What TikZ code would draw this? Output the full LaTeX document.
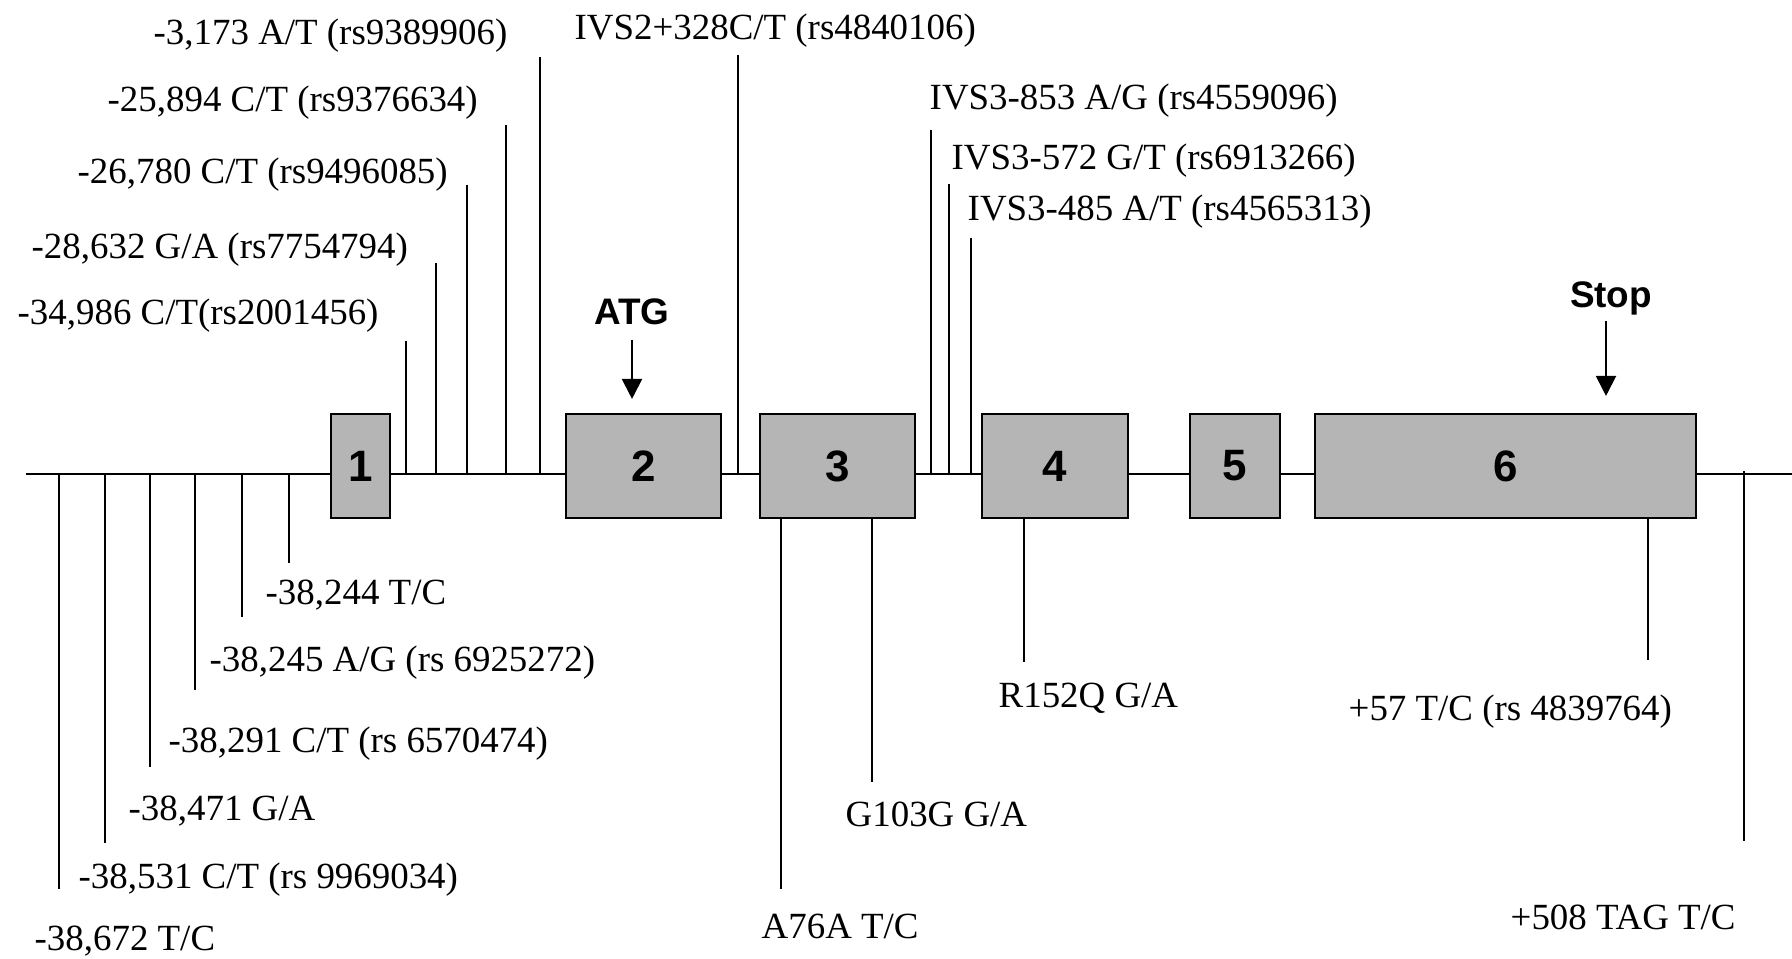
\documentclass[tikz,border=0pt]{standalone}
\usepackage{fontspec}
\setmainfont{Liberation Serif}
\setsansfont{Liberation Sans}
\usetikzlibrary{arrows.meta}
\definecolor{exongray}{RGB}{181,181,181}

\begin{document}
\begin{tikzpicture}[
    % Line and box styles
    dna/.style={line width=0.6pt, draw=black},
    exonbox/.style={draw=black, line width=0.6pt, fill=exongray, minimum height=1.04cm, inner sep=0pt, font=\sffamily\bfseries\fontsize{12.5}{14}\selectfont},
    snp/.style={line width=0.55pt, draw=black},
    snplabel/.style={anchor=west, inner sep=0pt, yshift=-0.03cm, font=\fontsize{10.5}{12}\selectfont},
    marklabel/.style={inner sep=0pt, font=\sffamily\bfseries\fontsize{10.5}{12}\selectfont},
    pointer/.style={->, line width=0.6pt, >={Triangle[width=2mm,length=2mm]}}
]

% 1. Frame
\useasboundingbox (0,0) rectangle (17.92,9.58);

% 2. DNA line (exons are drawn on top of it)
\coordinate (dna) at (0.26,4.84);
\coordinate (dnaend) at (17.92,4.84);
\draw[dna] (dna) -- (dnaend);

% 3. Exons
\node[exonbox, minimum width=0.59cm] (e1) at (3.605,4.92) {1};
\node[exonbox, minimum width=1.55cm] (e2) at (6.435,4.92) {2};
\node[exonbox, minimum width=1.55cm] (e3) at (8.375,4.92) {3};
\node[exonbox, minimum width=1.46cm] (e4) at (10.55,4.92) {4};
\node[exonbox, minimum width=0.90cm] (e5) at (12.35,4.92) {5};
\node[exonbox, minimum width=3.81cm] (e6) at (15.055,4.92) {6};

% 4. Start and stop codons
\node[marklabel] (atg) at (6.32,6.46) {ATG};
\node[marklabel] (stop) at (16.11,6.60) {Stop};
\draw[pointer, shorten <=0.14cm, shorten >=0.14cm] (atg.south) -- (atg.south |- e2.north);
\draw[pointer, shorten <=0.06cm, shorten >=0.17cm] ([xshift=-0.05cm]stop.south) -- ([xshift=-0.05cm]stop.south |- e6.north);

% 5. Promoter SNPs above the line
\node[snplabel] (l3173)  at (1.53,9.25) {-3,173 A/T (rs9389906)};
\node[snplabel] (l25894) at (1.07,8.58) {-25,894 C/T (rs9376634)};
\node[snplabel] (l26780) at (0.77,7.86) {-26,780 C/T (rs9496085)};
\node[snplabel] (l28632) at (0.31,7.11) {-28,632 G/A (rs7754794)};
\node[snplabel] (l34986) at (0.17,6.45) {-34,986 C/T(rs2001456)};

\coordinate (t3173)  at (5.40,9.01);
\coordinate (t25894) at (5.06,8.33);
\coordinate (t26780) at (4.67,7.73);
\coordinate (t28632) at (4.36,6.95);
\coordinate (t34986) at (4.06,6.17);
\draw[snp] (t3173) -- (t3173 |- dna);
\draw[snp] (t25894) -- (t25894 |- dna);
\draw[snp] (t26780) -- (t26780 |- dna);
\draw[snp] (t28632) -- (t28632 |- dna);
\draw[snp] (t34986) -- (t34986 |- dna);

% 6. Promoter SNPs below the line
\node[snplabel] (l38244) at (2.65,3.66) {-38,244 T/C};
\node[snplabel] (l38245) at (2.09,2.98) {-38,245 A/G (rs 6925272)};
\node[snplabel] (l38291) at (1.68,2.17) {-38,291 C/T (rs 6570474)};
\node[snplabel] (l38471) at (1.28,1.50) {-38,471 G/A};
\node[snplabel] (l38531) at (0.78,0.81) {-38,531 C/T (rs 9969034)};
\node[snplabel] (l38672) at (0.34,0.20) {-38,672 T/C};

\coordinate (t38244) at (2.89,3.95);
\coordinate (t38245) at (2.42,3.41);
\coordinate (t38291) at (1.95,2.68);
\coordinate (t38471) at (1.50,1.91);
\coordinate (t38531) at (1.05,1.15);
\coordinate (t38672) at (0.59,0.69);
\draw[snp] (t38244) -- (t38244 |- dna);
\draw[snp] (t38245) -- (t38245 |- dna);
\draw[snp] (t38291) -- (t38291 |- dna);
\draw[snp] (t38471) -- (t38471 |- dna);
\draw[snp] (t38531) -- (t38531 |- dna);
\draw[snp] (t38672) -- (t38672 |- dna);

% 7. Intron SNPs
\node[snplabel] (livs2)   at (5.74,9.30) {IVS2+328C/T (rs4840106)};
\node[snplabel] (livs853) at (9.29,8.60) {IVS3-853 A/G (rs4559096)};
\node[snplabel] (livs572) at (9.51,8.00) {IVS3-572 G/T (rs6913266)};
\node[snplabel] (livs485) at (9.67,7.49) {IVS3-485 A/T (rs4565313)};

\coordinate (tivs2)   at (7.38,9.03);
\coordinate (tivs853) at (9.31,8.28);
\coordinate (tivs572) at (9.49,7.74);
\coordinate (tivs485) at (9.71,7.20);
\draw[snp] (tivs2) -- (tivs2 |- dna);
\draw[snp] (tivs853) -- (tivs853 |- dna);
\draw[snp] (tivs572) -- (tivs572 |- dna);
\draw[snp] (tivs485) -- (tivs485 |- dna);

% 8. Exon and 3' SNPs
\node[snplabel] (la76a)  at (7.61,0.35) {A76A T/C};
\node[snplabel] (lg103g) at (8.45,1.47) {G103G G/A};
\node[snplabel] (lr152q) at (9.98,2.63) {R152Q G/A};
\node[snplabel] (l57)    at (13.48,2.49) {+57 T/C (rs 4839764)};
\node[snplabel] (l508)   at (15.10,0.44) {+508 TAG T/C};

\coordinate (ta76a)  at (7.81,0.69);
\coordinate (tg103g) at (8.72,1.76);
\coordinate (tr152q) at (10.24,2.96);
\coordinate (t57)    at (16.48,2.98);
\coordinate (t508)   at (17.44,1.17);
\draw[snp] (ta76a) -- (ta76a |- e3.south);
\draw[snp] (tg103g) -- (tg103g |- e3.south);
\draw[snp] (tr152q) -- (tr152q |- e4.south);
\draw[snp] (t57) -- (t57 |- e6.south);
\draw[snp] (t508) -- ([yshift=0.03cm]t508 |- dna);

\end{tikzpicture}
\end{document}
